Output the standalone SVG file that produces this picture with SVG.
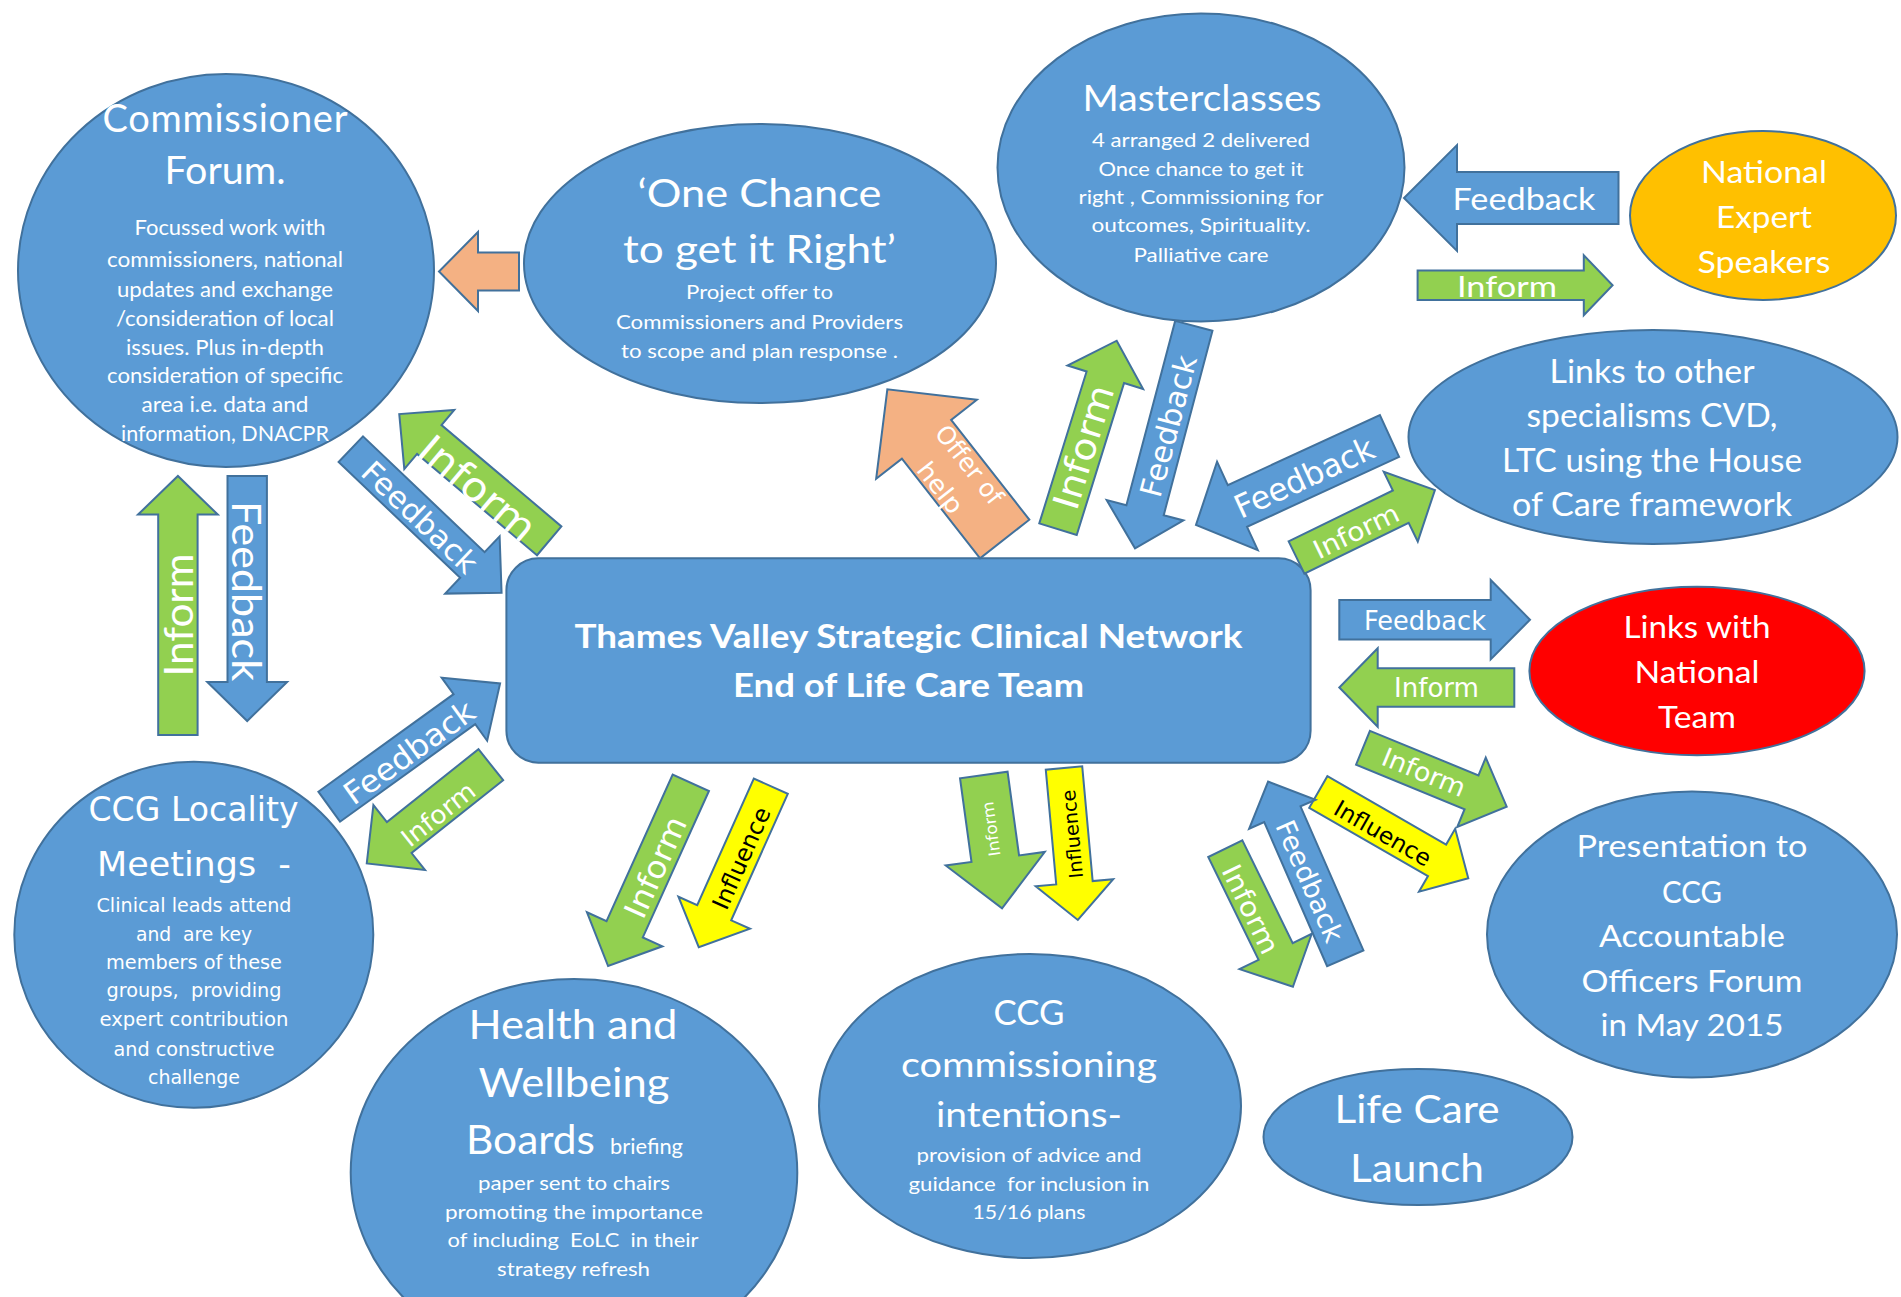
<svg xmlns="http://www.w3.org/2000/svg" width="1901" height="1297" viewBox="0 0 1901 1297">
<style>
.n{fill:#5B9BD5;stroke:#41719C;stroke-width:2}
.t{font-family:Lato,"Open Sans",sans-serif;fill:#fff;text-anchor:middle}
.v{font-family:"DejaVu Sans",Verdana,sans-serif;fill:#fff;text-anchor:middle}
.b{font-weight:bold}
.a{stroke:#41719C;stroke-width:2}
.blue{fill:#5B9BD5}.green{fill:#92D050}.orange{fill:#F4B183}.yellow{fill:#FFFF00}
.k{fill:#000}
</style>
<rect width="1901" height="1297" fill="#fff"/>
<g id="nodes">
<g id="commissioner-forum">
<ellipse class="n" cx="226" cy="270.5" rx="208" ry="196.5"/>
<text class="t" font-size="38" lengthAdjust="spacingAndGlyphs"><tspan x="225" y="132" textLength="245">Commissioner</tspan></text>
<text class="t" font-size="38" x="225" y="184" textLength="121" lengthAdjust="spacingAndGlyphs">Forum.</text>
<text class="t" font-size="21" x="230" y="235" textLength="191" lengthAdjust="spacingAndGlyphs">Focussed work with</text>
<text class="t" font-size="21" x="225" y="267" textLength="236" lengthAdjust="spacingAndGlyphs">commissioners, national</text>
<text class="t" font-size="21" x="225" y="297" textLength="216" lengthAdjust="spacingAndGlyphs">updates and exchange</text>
<text class="t" font-size="21" x="225" y="326" textLength="218" lengthAdjust="spacingAndGlyphs">/consideration of local</text>
<text class="t" font-size="21" x="225" y="355" textLength="198" lengthAdjust="spacingAndGlyphs">issues. Plus in-depth</text>
<text class="t" font-size="21" x="225" y="383" textLength="236" lengthAdjust="spacingAndGlyphs">consideration of specific</text>
<text class="t" font-size="21" x="225" y="412" textLength="167" lengthAdjust="spacingAndGlyphs">area i.e. data and</text>
<text class="t" font-size="21" x="225" y="441" textLength="208" lengthAdjust="spacingAndGlyphs">information, DNACPR</text>
</g>
<g id="one-chance">
<ellipse class="n" cx="760" cy="263.5" rx="236" ry="139.5"/>
<text class="t" font-size="38" x="759.5" y="207" textLength="244" lengthAdjust="spacingAndGlyphs">‘One Chance</text>
<text class="t" font-size="38" x="759.5" y="263" textLength="273" lengthAdjust="spacingAndGlyphs">to get it Right’</text>
<text class="t" font-size="20" x="759.5" y="299" textLength="147" lengthAdjust="spacingAndGlyphs">Project offer to</text>
<text class="t" font-size="20" x="759.5" y="329" textLength="287" lengthAdjust="spacingAndGlyphs">Commissioners and Providers</text>
<text class="t" font-size="20" x="759.5" y="358" textLength="277" lengthAdjust="spacingAndGlyphs">to scope and plan response .</text>
</g>
<g id="masterclasses">
<ellipse class="n" cx="1201" cy="167.5" rx="203.5" ry="154"/>
<text class="t" font-size="36" x="1202" y="111" textLength="239" lengthAdjust="spacingAndGlyphs">Masterclasses</text>
<text class="t" font-size="20" x="1201" y="147" textLength="218" lengthAdjust="spacingAndGlyphs">4 arranged 2 delivered</text>
<text class="t" font-size="20" x="1201" y="176" textLength="205" lengthAdjust="spacingAndGlyphs">Once chance to get it</text>
<text class="t" font-size="20" x="1201" y="204" textLength="245" lengthAdjust="spacingAndGlyphs">right , Commissioning for</text>
<text class="t" font-size="20" x="1201" y="232" textLength="219" lengthAdjust="spacingAndGlyphs">outcomes, Spirituality.</text>
<text class="t" font-size="20" x="1201" y="262" textLength="135" lengthAdjust="spacingAndGlyphs">Palliative care</text>
</g>
<g id="national-expert-speakers">
<ellipse cx="1763" cy="215.5" rx="133" ry="84.5" fill="#FFC000" stroke="#41719C" stroke-width="2"/>
<text class="t" font-size="31" x="1764" y="183" textLength="126" lengthAdjust="spacingAndGlyphs">National</text>
<text class="t" font-size="31" x="1764" y="228" textLength="96" lengthAdjust="spacingAndGlyphs">Expert</text>
<text class="t" font-size="31" x="1764" y="273" textLength="133" lengthAdjust="spacingAndGlyphs">Speakers</text>
</g>
<g id="links-other-specialisms">
<ellipse class="n" cx="1653" cy="437" rx="244.5" ry="107"/>
<text class="t" font-size="32" x="1652" y="383" textLength="205" lengthAdjust="spacingAndGlyphs">Links to other</text>
<text class="t" font-size="32" x="1652" y="427" textLength="251" lengthAdjust="spacingAndGlyphs">specialisms CVD,</text>
<text class="t" font-size="32" x="1652" y="472" textLength="300" lengthAdjust="spacingAndGlyphs">LTC using the House</text>
<text class="t" font-size="32" x="1652" y="516" textLength="280" lengthAdjust="spacingAndGlyphs">of Care framework</text>
</g>
<g id="links-national-team">
<ellipse cx="1697" cy="671" rx="167.6" ry="84.3" fill="#FF0000" stroke="#41719C" stroke-width="2"/>
<text class="t" font-size="30" x="1697" y="638" textLength="147" lengthAdjust="spacingAndGlyphs">Links with</text>
<text class="t" font-size="30" x="1697" y="683" textLength="125" lengthAdjust="spacingAndGlyphs">National</text>
<text class="t" font-size="30" x="1697" y="728" textLength="78" lengthAdjust="spacingAndGlyphs">Team</text>
</g>
<g id="presentation-ccg">
<ellipse class="n" cx="1692" cy="934.5" rx="205" ry="143"/>
<text class="t" font-size="31" x="1692" y="857" textLength="231" lengthAdjust="spacingAndGlyphs">Presentation to</text>
<text class="t" font-size="31" x="1692" y="903" textLength="60" lengthAdjust="spacingAndGlyphs">CCG</text>
<text class="t" font-size="31" x="1692" y="947" textLength="186" lengthAdjust="spacingAndGlyphs">Accountable</text>
<text class="t" font-size="31" x="1692" y="992" textLength="221" lengthAdjust="spacingAndGlyphs">Officers Forum</text>
<text class="t" font-size="31" x="1692" y="1036" textLength="183" lengthAdjust="spacingAndGlyphs">in May 2015</text>
</g>
<g id="life-care-launch">
<ellipse class="n" cx="1418" cy="1137" rx="154.5" ry="68"/>
<text class="t" font-size="39" x="1417" y="1123" textLength="165" lengthAdjust="spacingAndGlyphs">Life Care</text>
<text class="t" font-size="39" x="1417" y="1182" textLength="134" lengthAdjust="spacingAndGlyphs">Launch</text>
</g>
<g id="ccg-commissioning">
<ellipse class="n" cx="1030" cy="1106" rx="211" ry="152"/>
<text class="t" font-size="35" x="1029" y="1025" textLength="71" lengthAdjust="spacingAndGlyphs">CCG</text>
<text class="t" font-size="35" x="1029" y="1077" textLength="256" lengthAdjust="spacingAndGlyphs">commissioning</text>
<text class="t" font-size="35" x="1029" y="1127" textLength="186" lengthAdjust="spacingAndGlyphs">intentions-</text>
<text class="t" font-size="20" x="1029" y="1162" textLength="225" lengthAdjust="spacingAndGlyphs">provision of advice and</text>
<text class="t" font-size="20" x="1029" y="1191" textLength="241" lengthAdjust="spacingAndGlyphs" xml:space="preserve">guidance  for inclusion in</text>
<text class="t" font-size="20" x="1029" y="1219" textLength="113" lengthAdjust="spacingAndGlyphs">15/16 plans</text>
</g>
<g id="health-wellbeing">
<ellipse class="n" cx="574" cy="1172.5" rx="223.3" ry="193.5"/>
<text class="t" font-size="40" x="573" y="1039" textLength="209" lengthAdjust="spacingAndGlyphs">Health and</text>
<text class="t" font-size="40" x="574" y="1097" textLength="191" lengthAdjust="spacingAndGlyphs">Wellbeing</text>
<text class="t" font-size="40" x="466" y="1154" textLength="129" lengthAdjust="spacingAndGlyphs" style="text-anchor:start">Boards</text>
<text class="t" font-size="21" x="610" y="1154" textLength="73" lengthAdjust="spacingAndGlyphs" style="text-anchor:start">briefing</text>
<text class="t" font-size="20" x="574" y="1190" textLength="192" lengthAdjust="spacingAndGlyphs">paper sent to chairs</text>
<text class="t" font-size="20" x="574" y="1219" textLength="258" lengthAdjust="spacingAndGlyphs">promoting the importance</text>
<text class="t" font-size="20" x="573" y="1247" textLength="251" lengthAdjust="spacingAndGlyphs" xml:space="preserve">of including  EoLC  in their</text>
<text class="t" font-size="20" x="573.5" y="1276" textLength="153" lengthAdjust="spacingAndGlyphs">strategy refresh</text>
</g>
<g id="ccg-locality">
<ellipse class="n" cx="193.8" cy="934.8" rx="179.5" ry="173"/>
<text class="v" font-size="33" x="193.5" y="821" textLength="210" lengthAdjust="spacingAndGlyphs">CCG Locality</text>
<text class="v" font-size="33" x="194" y="876" textLength="194" lengthAdjust="spacingAndGlyphs" xml:space="preserve">Meetings  -</text>
<text class="v" font-size="19" x="194" y="912" textLength="195" lengthAdjust="spacingAndGlyphs">Clinical leads attend</text>
<text class="v" font-size="19" x="194" y="941" textLength="116" lengthAdjust="spacingAndGlyphs" xml:space="preserve">and  are key</text>
<text class="v" font-size="19" x="194" y="969" textLength="176" lengthAdjust="spacingAndGlyphs">members of these</text>
<text class="v" font-size="19" x="194" y="997" textLength="175" lengthAdjust="spacingAndGlyphs" xml:space="preserve">groups,  providing</text>
<text class="v" font-size="19" x="194" y="1026" textLength="189" lengthAdjust="spacingAndGlyphs">expert contribution</text>
<text class="v" font-size="19" x="194" y="1056" textLength="161" lengthAdjust="spacingAndGlyphs">and constructive</text>
<text class="v" font-size="19" x="194" y="1084" textLength="92" lengthAdjust="spacingAndGlyphs">challenge</text>
</g>
<g id="thames-valley-eolc-team">
<rect class="n" x="506.4" y="558.3" width="804.2" height="204.4" rx="32" ry="32"/>
<text class="t b" font-size="32" x="908.5" y="648" textLength="668" lengthAdjust="spacingAndGlyphs">Thames Valley Strategic Clinical Network</text>
<text class="t b" font-size="32" x="908.5" y="697" textLength="351" lengthAdjust="spacingAndGlyphs">End of Life Care Team</text>
</g>
</g>
<g id="connectors">
<path class="a orange" transform="translate(519,271.5) rotate(180)" d="M0,-19H41V-39.5L80,0L41,39.5V19H0Z"/>
<g>
<path class="a blue" transform="translate(1618.5,198) rotate(180)" d="M0,-25.9H161.5V-52.9L214.5,0L161.5,52.9V25.9H0Z"/>
<text class="t" font-size="31" x="1524" y="210" textLength="143" lengthAdjust="spacingAndGlyphs">Feedback</text>
</g>
<g>
<path class="a green" transform="translate(1417.6,285.3)" d="M0,-14.7H166.2V-30L195,0L166.2,30V14.7H0Z"/>
<text class="t" font-size="29" x="1507" y="296.7" textLength="100" lengthAdjust="spacingAndGlyphs">Inform</text>
</g>
<g>
<path class="a blue" transform="translate(1389.5,436) rotate(155.3)" d="M0,-23H167.4V-48.7L213,0L167.4,48.7V23H0Z"/>
<text class="v" font-size="32" transform="translate(1304,477) rotate(-24.7)" x="0" y="11.7" textLength="150" lengthAdjust="spacingAndGlyphs">Feedback</text>
</g>
<g>
<path class="a green" transform="translate(1296.5,557.5) rotate(-26)" d="M0,-18H116V-38.8L154,0L116,38.8V18H0Z"/>
<text class="v" font-size="26" transform="translate(1356,531) rotate(-26)" x="0" y="9.5" textLength="92" lengthAdjust="spacingAndGlyphs">Inform</text>
</g>
<g>
<path class="a blue" transform="translate(1339.3,619.7)" d="M0,-19.7H151.4V-39.7L190.7,0L151.4,39.7V19.7H0Z"/>
<text class="v" font-size="27" x="1425" y="630" textLength="122" lengthAdjust="spacingAndGlyphs">Feedback</text>
</g>
<g>
<path class="a green" transform="translate(1514.3,687.5) rotate(180)" d="M0,-19.2H136.6V-39.2L175,0L136.6,39.2V19.2H0Z"/>
<text class="v" font-size="26" x="1436.5" y="697.3" textLength="85" lengthAdjust="spacingAndGlyphs">Inform</text>
</g>
<g>
<path class="a green" transform="translate(1363,747.8) rotate(22.3)" d="M0,-18.3H117.3V-37.5L155.3,0L117.3,37.5V18.3H0Z"/>
<text class="v" font-size="26" transform="translate(1424,772) rotate(22.3)" x="0" y="9.5" textLength="88" lengthAdjust="spacingAndGlyphs">Inform</text>
</g>
<g>
<path class="a yellow" transform="translate(1318.3,792) rotate(29.9)" d="M0,-18.2H137V-36.3L173,0L137,36.3V18.2H0Z"/>
<text class="v k" font-size="23" transform="translate(1383,833) rotate(29.9)" x="0" y="8.4" textLength="108" lengthAdjust="spacingAndGlyphs">Influence</text>
</g>
<g>
<path class="a blue" transform="translate(1345.3,958.3) rotate(-113.6)" d="M0,-19.8H157.2V-36.3L192.8,0L157.2,36.3V19.8H0Z"/>
<text class="v" font-size="27" transform="translate(1310,881) rotate(66.4)" x="0" y="9.9" textLength="130" lengthAdjust="spacingAndGlyphs">Feedback</text>
</g>
<g>
<path class="a green" transform="translate(1225.3,848.7) rotate(63.9)" d="M0,-19H114.4V-40.2L153.7,0L114.4,40.2V19H0Z"/>
<text class="v" font-size="27" transform="translate(1251,909) rotate(63.9)" x="0" y="9.9" textLength="96" lengthAdjust="spacingAndGlyphs">Inform</text>
</g>
<g>
<path class="a orange" transform="translate(1004.7,539) rotate(-128.1)" d="M0,-31.3H126.7V-64L190.2,0L126.7,64V31.3H0Z"/>
<text class="v" font-size="25" transform="translate(955,476) rotate(51.9)" x="0" y="-9.5" textLength="93" lengthAdjust="spacingAndGlyphs">Offer of</text>
<text class="v" font-size="25" transform="translate(955,476) rotate(51.9)" x="0" y="27.5" textLength="58" lengthAdjust="spacingAndGlyphs">help</text>
</g>
<g>
<path class="a green" transform="translate(1058,529.2) rotate(-72.7)" d="M0,-19.6H159.1V-39.6L197.4,0L159.1,39.6V19.6H0Z"/>
<text class="v" font-size="36" transform="translate(1083,447) rotate(-72.7)" x="0" y="13.1" textLength="128" lengthAdjust="spacingAndGlyphs">Inform</text>
</g>
<g>
<path class="a blue" transform="translate(1193.8,325.8) rotate(104.8)" d="M0,-19.3H190.8V-39.7L230.1,0L190.8,39.7V19.3H0Z"/>
<text class="v" font-size="30" transform="translate(1168,426) rotate(-75.2)" x="0" y="11" textLength="145" lengthAdjust="spacingAndGlyphs">Feedback</text>
</g>
<g>
<path class="a blue" transform="translate(350.8,449.2) rotate(43.6)" d="M0,-17.7H167.9V-39.5L208.2,0L167.9,39.5V17.7H0Z"/>
<text class="v" font-size="30" transform="translate(420,517) rotate(43.6)" x="0" y="11" textLength="147" lengthAdjust="spacingAndGlyphs">Feedback</text>
</g>
<g>
<path class="a green" transform="translate(549.2,540.8) rotate(-139.8)" d="M0,-18.9H157V-38.7L196.3,0L157,38.7V18.9H0Z"/>
<text class="v" font-size="40" transform="translate(478,488) rotate(40.2)" x="0" y="14.6" textLength="140" lengthAdjust="spacingAndGlyphs">Inform</text>
</g>
<g>
<path class="a blue" transform="translate(329.2,806.7) rotate(-35.8)" d="M0,-18.5H166.7V-38.9L210.7,0L166.7,38.9V18.5H0Z"/>
<text class="v" font-size="31" transform="translate(409,752) rotate(-35.8)" x="0" y="11.3" textLength="153" lengthAdjust="spacingAndGlyphs">Feedback</text>
</g>
<g>
<path class="a green" transform="translate(490.8,764.7) rotate(141.5)" d="M0,-19.8H117V-41.5L158.5,0L117,41.5V19.8H0Z"/>
<text class="v" font-size="25" transform="translate(438,814) rotate(-38.5)" x="0" y="9.1" textLength="87" lengthAdjust="spacingAndGlyphs">Inform</text>
</g>
<g>
<path class="a green" transform="translate(177.9,734.9) rotate(-90)" d="M0,-19.7H220.3V-39.9L258.9,0L220.3,39.9V19.7H0Z"/>
<text class="t" font-size="41" transform="translate(178,615) rotate(-90)" x="0" y="14.7" textLength="123" lengthAdjust="spacingAndGlyphs">Inform</text>
</g>
<g>
<path class="a blue" transform="translate(247.2,476) rotate(90)" d="M0,-19.7H206V-39.9L245,0L206,39.9V19.7H0Z"/>
<text class="t" font-size="41" transform="translate(247,591) rotate(90)" x="0" y="14.7" textLength="180" lengthAdjust="spacingAndGlyphs">Feedback</text>
</g>
<g>
<path class="a green" transform="translate(690.8,782.8) rotate(114.3)" d="M0,-19.9H160.7V-41.4L201,0L160.7,41.4V19.9H0Z"/>
<text class="v" font-size="31" transform="translate(655,867) rotate(-65.7)" x="0" y="11.3" textLength="108" lengthAdjust="spacingAndGlyphs">Inform</text>
</g>
<g>
<path class="a yellow" transform="translate(770.8,786.2) rotate(114.1)" d="M0,-18.6H138.6V-39.2L176.4,0L138.6,39.2V18.6H0Z"/>
<text class="v k" font-size="23.5" transform="translate(741,858) rotate(-65.9)" x="0" y="8.6" textLength="109" lengthAdjust="spacingAndGlyphs">Influence</text>
</g>
<g>
<path class="a green" transform="translate(983.8,775) rotate(82.2)" d="M0,-24H84.5V-50L134.5,0L84.5,50V24H0Z"/>
<text class="v" font-size="16" transform="translate(991,829) rotate(-97.8)" x="0" y="5.8" textLength="55" lengthAdjust="spacingAndGlyphs">Inform</text>
</g>
<g>
<path class="a yellow" transform="translate(1064,768) rotate(84.8)" d="M0,-18.3H115.2V-38.9L152.6,0L115.2,38.9V18.3H0Z"/>
<text class="v k" font-size="19" transform="translate(1072,834) rotate(-95.2)" x="0" y="6.9" textLength="89" lengthAdjust="spacingAndGlyphs">Influence</text>
</g>
</g>
</svg>
